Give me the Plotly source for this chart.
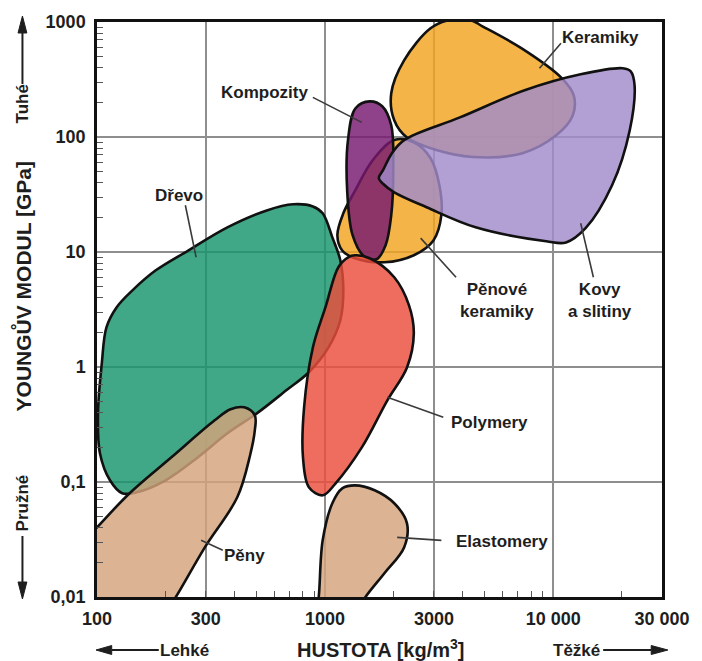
import numpy as np
import plotly.graph_objects as go

# Outlines of the material families: density [kg/m3] and Young's modulus [GPa]
drevo_hustota = [373, 555, 724, 884, 976, 1076, 1166, 1202, 1166, 1035, 849, 676, 502, 373,
                 277, 200, 149, 129, 114, 103, 101, 105, 110, 122, 143, 181, 251]
drevo_modul = [16.4, 23.0, 26.0, 24.9, 21.7, 13.4, 8.47, 4.64, 2.55, 1.48, 0.90, 0.627, 0.395, 0.265,
               0.164, 0.1035, 0.0813, 0.0798, 0.1035, 0.178, 0.395, 1.08, 2.21, 3.31, 4.64, 6.93, 10.3]

peny_hustota = [76.6, 84.5, 100, 139, 212, 328, 385, 442, 492, 492, 469, 412, 297, 221, 196]
peny_modul = [0.0069, 0.0282, 0.0403, 0.0798, 0.164, 0.344, 0.429, 0.446, 0.380, 0.282, 0.171,
              0.0736, 0.027, 0.0099, 0.0069]

polymery_hustota = [809, 884, 1004, 1143, 1262, 1352, 1570, 2010, 2333, 2449, 2286, 1875, 1449,
                    1110, 976, 849, 800]
polymery_modul = [0.446, 1.48, 3.31, 7.37, 9.0, 9.37, 8.82, 6.03, 3.44, 1.96, 0.99, 0.513, 0.200,
                  0.097, 0.0766, 0.090, 0.164]

elastomery_hustota = [910, 937, 976, 1076, 1189, 1352, 1648, 2010, 2286, 2220, 1820, 1493, 1352]
elastomery_modul = [0.0069, 0.0098, 0.0311, 0.0653, 0.088, 0.0935, 0.0847, 0.0653, 0.0437, 0.027,
                    0.0161, 0.0098, 0.0069]

penove_keramiky_hustota = [2010, 2449, 2900, 3170, 3234, 2985, 2449, 1820, 1352, 1189, 1132, 1202,
                           1352, 1619]
penove_keramiky_modul = [94, 90, 65.3, 38, 20.9, 12.6, 9.37, 8.14, 8.82, 10.3, 14.0, 21.7, 34, 63]

keramiky_hustota = [2286, 2010, 1950, 2220, 2900, 3467, 4355, 4897, 7278, 10820, 12300, 12180,
                    10310, 7278, 4437, 3076]
keramiky_modul = [99, 140, 240, 464, 881, 1035, 1035, 918, 590, 330, 231, 154, 103.5, 72, 67, 77]

kompozity_hustota = [1990, 1950, 1840, 1680, 1480, 1320, 1250, 1260, 1360, 1570, 1780, 1950]
kompozity_modul = [51, 20.9, 11.4, 8.64, 9.2, 14.0, 34, 94, 178, 204, 185, 126.5]

kovy_hustota = [1720, 1800, 1960, 2220, 3899, 7499, 13200, 20180, 21880, 22740, 21650, 18120,
                13870, 11380, 9330, 4571, 2786, 2010, 1800]
kovy_modul = [44, 52, 72, 94, 148, 255, 351, 396, 372, 282, 114, 38, 16.1, 12.1, 12.4, 16.4, 24.5,
              33, 39]

# Label names, label anchor points and leader lines (from label to region)
nazvy = ["Keramiky", "Kompozity", "Pěnové<br>keramiky", "Kovy<br>a slitiny",
         "Dřevo", "Pěny", "Polymery", "Elastomery"]
popisek_hustota = [16070, 543, 5690, 16070, 228, 442, 5250, 5970]
popisek_modul = [736, 245, 3.80, 3.80, 31.1, 0.0231, 0.330, 0.0301]
voditko_hustota = [[10820, 8710], [884, 1449], [3750, 2624], [15010, 13200],
                   [244, 272], [356, 286], [3298, 1875], [3234, 2070]]
voditko_modul = [[653, 396], [221, 134], [6.03, 13.2], [6.03, 17.8],
                 [25.5, 9.0], [0.0255, 0.0311], [0.365, 0.545], [0.0311, 0.033]]

x_ticks = [100, 300, 1000, 3000, 10000, 30000]
x_labels = ["100", "300", "1000", "3000", "10 000", "30 000"]
y_ticks = [0.01, 0.1, 1, 10, 100, 1000]
y_labels = ["0,01", "0,1", "1", "10", "100", "1000"]

ALPHA = 0.82
regions = [
    (drevo_hustota, drevo_modul, (22, 149, 107)),
    (penove_keramiky_hustota, penove_keramiky_modul, (243, 164, 31)),
    (keramiky_hustota, keramiky_modul, (243, 164, 31)),
    (kompozity_hustota, kompozity_modul, (118, 24, 111)),
    (polymery_hustota, polymery_modul, (235, 77, 60)),
    (peny_hustota, peny_modul, (212, 164, 124)),
    (elastomery_hustota, elastomery_modul, (212, 164, 124)),
    (kovy_hustota, kovy_modul, (161, 139, 203)),
]

fig = go.Figure()

for hx, hy, (r, g, b) in regions:
    fig.add_trace(go.Scatter(
        x=hx + hx[:1], y=hy + hy[:1],
        mode="lines", fill="toself",
        fillcolor=f"rgba({r},{g},{b},{ALPHA})",
        line=dict(color="#111111", width=2.6, shape="spline", smoothing=1.0),
        hoverinfo="skip", showlegend=False,
    ))

for vx, vy in zip(voditko_hustota, voditko_modul):
    fig.add_trace(go.Scatter(
        x=vx, y=vy, mode="lines",
        line=dict(color="#3a3a3a", width=1.6),
        hoverinfo="skip", showlegend=False,
    ))

label_font = dict(family="Liberation Sans, Arial, sans-serif", size=17, color="#1e1e1e", weight="bold")
for name, lx, ly in zip(nazvy, popisek_hustota, popisek_modul):
    fig.add_annotation(x=np.log10(lx), y=np.log10(ly), xref="x", yref="y", text=name,
                       showarrow=False, font=label_font, align="center")

# Plot area in pixels: x 97..673, y 22..597
L, R, T, B = 97, 673, 22, 597
def pxx(p):
    return (p - L) / (R - L)
def pxy(p):
    return (B - p) / (B - T)

title_font = dict(family="Liberation Sans, Arial, sans-serif", size=20, color="#1e1e1e", weight="bold")
ytitle_font = dict(family="Liberation Sans, Arial, sans-serif", size=21, color="#1e1e1e", weight="bold")
side_font = dict(family="Liberation Sans, Arial, sans-serif", size=17, color="#1e1e1e", weight="bold")

fig.add_annotation(x=pxx(21), y=pxy(286), xref="paper", yref="paper", text="YOUNGŮV MODUL [GPa]",
                   textangle=-90, showarrow=False, font=ytitle_font, xanchor="center", yanchor="middle")
fig.add_annotation(x=pxx(21), y=pxy(104), xref="paper", yref="paper", text="Tuhé",
                   textangle=-90, showarrow=False, font=side_font, xanchor="center", yanchor="middle")
fig.add_annotation(x=pxx(21), y=pxy(503), xref="paper", yref="paper", text="Pružné",
                   textangle=-90, showarrow=False, font=side_font, xanchor="center", yanchor="middle")
fig.add_annotation(x=pxx(386), y=pxy(648), xref="paper", yref="paper", text="HUSTOTA [kg/m<sup>3</sup>]",
                   showarrow=False, font=title_font, xanchor="center", yanchor="middle")
fig.add_annotation(x=pxx(186), y=pxy(650), xref="paper", yref="paper", text="Lehké",
                   showarrow=False, font=side_font, xanchor="center", yanchor="middle")
fig.add_annotation(x=pxx(586), y=pxy(650), xref="paper", yref="paper", text="Těžké",
                   showarrow=False, font=side_font, xanchor="center", yanchor="middle")

# Direction arrows beside the axes
def arrow_v(xc, y_tail, y_base, y_tip, hw=4.5):
    fig.add_shape(type="line", xref="paper", yref="paper",
                  x0=pxx(xc), x1=pxx(xc), y0=pxy(y_tail), y1=pxy(y_base),
                  line=dict(color="#1e1e1e", width=2))
    path = (f"M {pxx(xc - hw)} {pxy(y_base)} L {pxx(xc + hw)} {pxy(y_base)} "
            f"L {pxx(xc)} {pxy(y_tip)} Z")
    fig.add_shape(type="path", xref="paper", yref="paper", path=path,
                  fillcolor="#1e1e1e", line=dict(color="#1e1e1e", width=1))

def arrow_h(yc, x_tail, x_base, x_tip, hw=4.5):
    fig.add_shape(type="line", xref="paper", yref="paper",
                  x0=pxx(x_tail), x1=pxx(x_base), y0=pxy(yc), y1=pxy(yc),
                  line=dict(color="#1e1e1e", width=2))
    path = (f"M {pxx(x_base)} {pxy(yc - hw)} L {pxx(x_base)} {pxy(yc + hw)} "
            f"L {pxx(x_tip)} {pxy(yc)} Z")
    fig.add_shape(type="path", xref="paper", yref="paper", path=path,
                  fillcolor="#1e1e1e", line=dict(color="#1e1e1e", width=1))

arrow_v(21, 84, 33, 16)
arrow_v(21, 536, 582, 599)
arrow_h(650, 160, 112, 96)
arrow_h(650, 613, 662, 679)

tick_font = dict(family="Liberation Sans, Arial, sans-serif", size=18, color="#1e1e1e", weight="bold")
minor_x = [k * 10 ** e for e in range(2, 5) for k in range(2, 10) if k * 10 ** e < 30000]
minor_y = [k * 10.0 ** e for e in range(-2, 3) for k in range(2, 10)]

fig.update_xaxes(type="log", range=[2, np.log10(30000)], tickvals=x_ticks, ticktext=x_labels,
                 tickfont=tick_font, showgrid=True, gridcolor="#8e8e8e", gridwidth=1.5,
                 showline=True, linecolor="#111111", linewidth=2.5, mirror=True, ticks="",
                 zeroline=False, ticklabelstandoff=4,
                 minor=dict(tickvals=minor_x, ticks="inside", ticklen=6, tickwidth=1,
                            tickcolor="#555555", showgrid=False))
fig.update_yaxes(type="log", range=[-2, 3], tickvals=y_ticks, ticktext=y_labels,
                 tickfont=tick_font, showgrid=True, gridcolor="#8e8e8e", gridwidth=1.5,
                 showline=True, linecolor="#111111", linewidth=2.5, mirror=True, ticks="",
                 zeroline=False, ticklabelstandoff=5,
                 minor=dict(tickvals=minor_y, ticks="inside", ticklen=6, tickwidth=1,
                            tickcolor="#555555", showgrid=False))

fig.update_layout(width=702, height=661, margin=dict(l=L, r=702 - R, t=T, b=661 - B),
                  paper_bgcolor="white", plot_bgcolor="white", showlegend=False)

fig.write_html("out.html")
